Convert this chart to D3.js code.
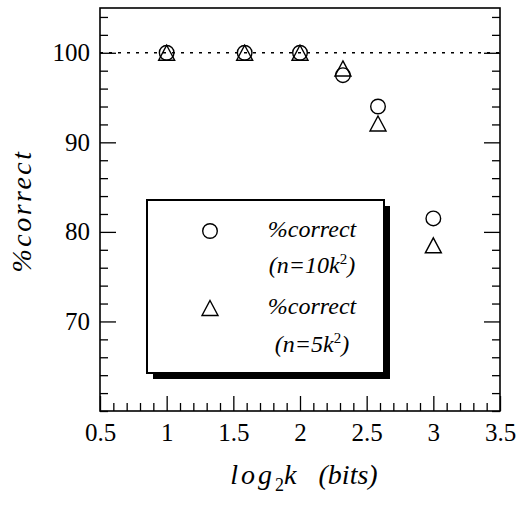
<!DOCTYPE html>
<html>
<head>
<meta charset="utf-8">
<script src="https://cdn.jsdelivr.net/npm/d3@7/dist/d3.min.js"></script>
<style>
  html, body { margin: 0; padding: 0; background: #fff; }
  svg { display: block; }
  text { font-family: "Liberation Serif", "Times New Roman", serif; fill: #000; }
</style>
</head>
<body>
<svg id="chart" width="517" height="508"></svg>
<script>
// ---- data ----
const categories = [1, 1.585, 2, 2.322, 2.585, 3];          // log2 k
const pct10k = [100, 100, 100, 97.5, 94.0, 81.5];            // circles (n=10k^2)
const pct5k  = [100, 100, 100, 98.25, 92.1, 78.5];           // triangles (n=5k^2)
const xTicks = [0.5, 1, 1.5, 2, 2.5, 3, 3.5];
const yTicks = [70, 80, 90, 100];
const refValue = 100;
const legendLabels = [["%correct", "(n=10k", "2", ")"], ["%correct", "(n=5k", "2", ")"]];

// ---- layout ----
const svg = d3.select("#chart");
const L = 100, R = 500, T = 8, B = 411;
const x = d3.scaleLinear().domain([0.5, 3.5]).range([L, R]);
const y = d3.scaleLinear().domain([60, 105]).range([B, T]);

const xMinor = d3.range(5, 36).map(d => d / 10).filter(d => !xTicks.some(t => Math.abs(t - d) < 1e-9));
const yMinor = d3.range(60, 106, 2).filter(d => !yTicks.includes(d));

function styleAxis(g) {
  g.select(".domain").remove();
  g.selectAll("line").attr("stroke", "#000").attr("stroke-width", 1.3);
  g.selectAll("text").style("font-size", "25px").style("font-family", '"Liberation Serif", serif');
}

// left axis
svg.append("g").attr("transform", `translate(${L},0)`)
  .call(d3.axisLeft(y).tickValues(yTicks).tickSize(-16).tickPadding(10).tickFormat(d3.format("d")))
  .call(styleAxis);
svg.append("g").attr("transform", `translate(${L},0)`)
  .call(d3.axisLeft(y).tickValues(yMinor).tickSize(-8).tickFormat(""))
  .call(styleAxis);
// right axis
svg.append("g").attr("transform", `translate(${R},0)`)
  .call(d3.axisRight(y).tickValues(yTicks).tickSize(-16).tickFormat(""))
  .call(styleAxis);
svg.append("g").attr("transform", `translate(${R},0)`)
  .call(d3.axisRight(y).tickValues(yMinor).tickSize(-8).tickFormat(""))
  .call(styleAxis);
// bottom axis
const xAx = svg.append("g").attr("transform", `translate(0,${B})`)
  .call(d3.axisBottom(x).tickValues(xTicks).tickSize(-15).tickPadding(12).tickFormat(d3.format("")))
  .call(styleAxis);
xAx.selectAll("text").attr("dy", "0.71em");
svg.append("g").attr("transform", `translate(0,${B})`)
  .call(d3.axisBottom(x).tickValues(xMinor).tickSize(-8).tickFormat(""))
  .call(styleAxis);

// frame
svg.append("rect").attr("x", L).attr("y", T).attr("width", R - L).attr("height", B - T)
  .attr("fill", "none").attr("stroke", "#000").attr("stroke-width", 1.6);

// reference dotted line
svg.append("line").attr("x1", L).attr("x2", R).attr("y1", y(refValue)).attr("y2", y(refValue))
  .attr("stroke", "#000").attr("stroke-width", 1.6).attr("stroke-dasharray", "3,6");

// markers
const triPath = (w, h) => `M0,${-h/2}L${w/2},${h/2}L${-w/2},${h/2}Z`;
svg.append("g").selectAll("circle").data(categories).join("circle")
  .attr("cx", (d) => x(d)).attr("cy", (d, i) => y(pct10k[i])).attr("r", 7.3)
  .attr("fill", "none").attr("stroke", "#000").attr("stroke-width", 1.4);
svg.append("g").selectAll("path").data(categories).join("path")
  .attr("d", triPath(16, 15))
  .attr("transform", (d, i) => `translate(${x(d)},${y(pct5k[i])})`)
  .attr("fill", "none").attr("stroke", "#000").attr("stroke-width", 1.4).attr("stroke-linejoin", "miter");

// legend
const lg = { x: 147, y: 200, w: 237, h: 173 };
svg.append("rect").attr("x", lg.x + 6).attr("y", lg.y + 6).attr("width", lg.w).attr("height", lg.h).attr("fill", "#000");
svg.append("rect").attr("x", lg.x).attr("y", lg.y).attr("width", lg.w).attr("height", lg.h)
  .attr("fill", "#fff").attr("stroke", "#000").attr("stroke-width", 2);
svg.append("circle").attr("cx", 210).attr("cy", 231).attr("r", 7.3)
  .attr("fill", "none").attr("stroke", "#000").attr("stroke-width", 1.4);
svg.append("path").attr("d", triPath(16, 15)).attr("transform", "translate(210,308)")
  .attr("fill", "none").attr("stroke", "#000").attr("stroke-width", 1.4);
const lineY = [[237, 273], [314, 352]];
legendLabels.forEach((lab, i) => {
  svg.append("text").attr("x", 312).attr("y", lineY[i][0]).attr("text-anchor", "middle")
    .style("font-size", "24px").style("font-style", "italic").text(lab[0]);
  const t = svg.append("text").attr("x", 312).attr("y", lineY[i][1]).attr("text-anchor", "middle")
    .style("font-size", "24px").style("font-style", "italic");
  t.append("tspan").text(lab[1]);
  t.append("tspan").attr("dy", -9).style("font-size", "15px").style("font-style", "normal").text(lab[2]);
  t.append("tspan").attr("dy", 9).text(lab[3]);
});

// y label
svg.append("text").attr("transform", "translate(31,211) rotate(-90)").attr("text-anchor", "middle")
  .style("font-size", "28px").style("font-style", "italic").style("letter-spacing", "2.5px").text("%correct");

// x label
const xl = svg.append("text").attr("x", 304).attr("y", 484).attr("text-anchor", "middle")
  .style("font-size", "28px").style("font-style", "italic");
xl.append("tspan").style("letter-spacing", "3px").text("log");
xl.append("tspan").attr("dy", 7).style("font-size", "18px").style("font-style", "normal").text("2");
xl.append("tspan").attr("dy", -7).text("k");
xl.append("tspan").attr("dx", 22).text("(bits)");
</script>
</body>
</html>
